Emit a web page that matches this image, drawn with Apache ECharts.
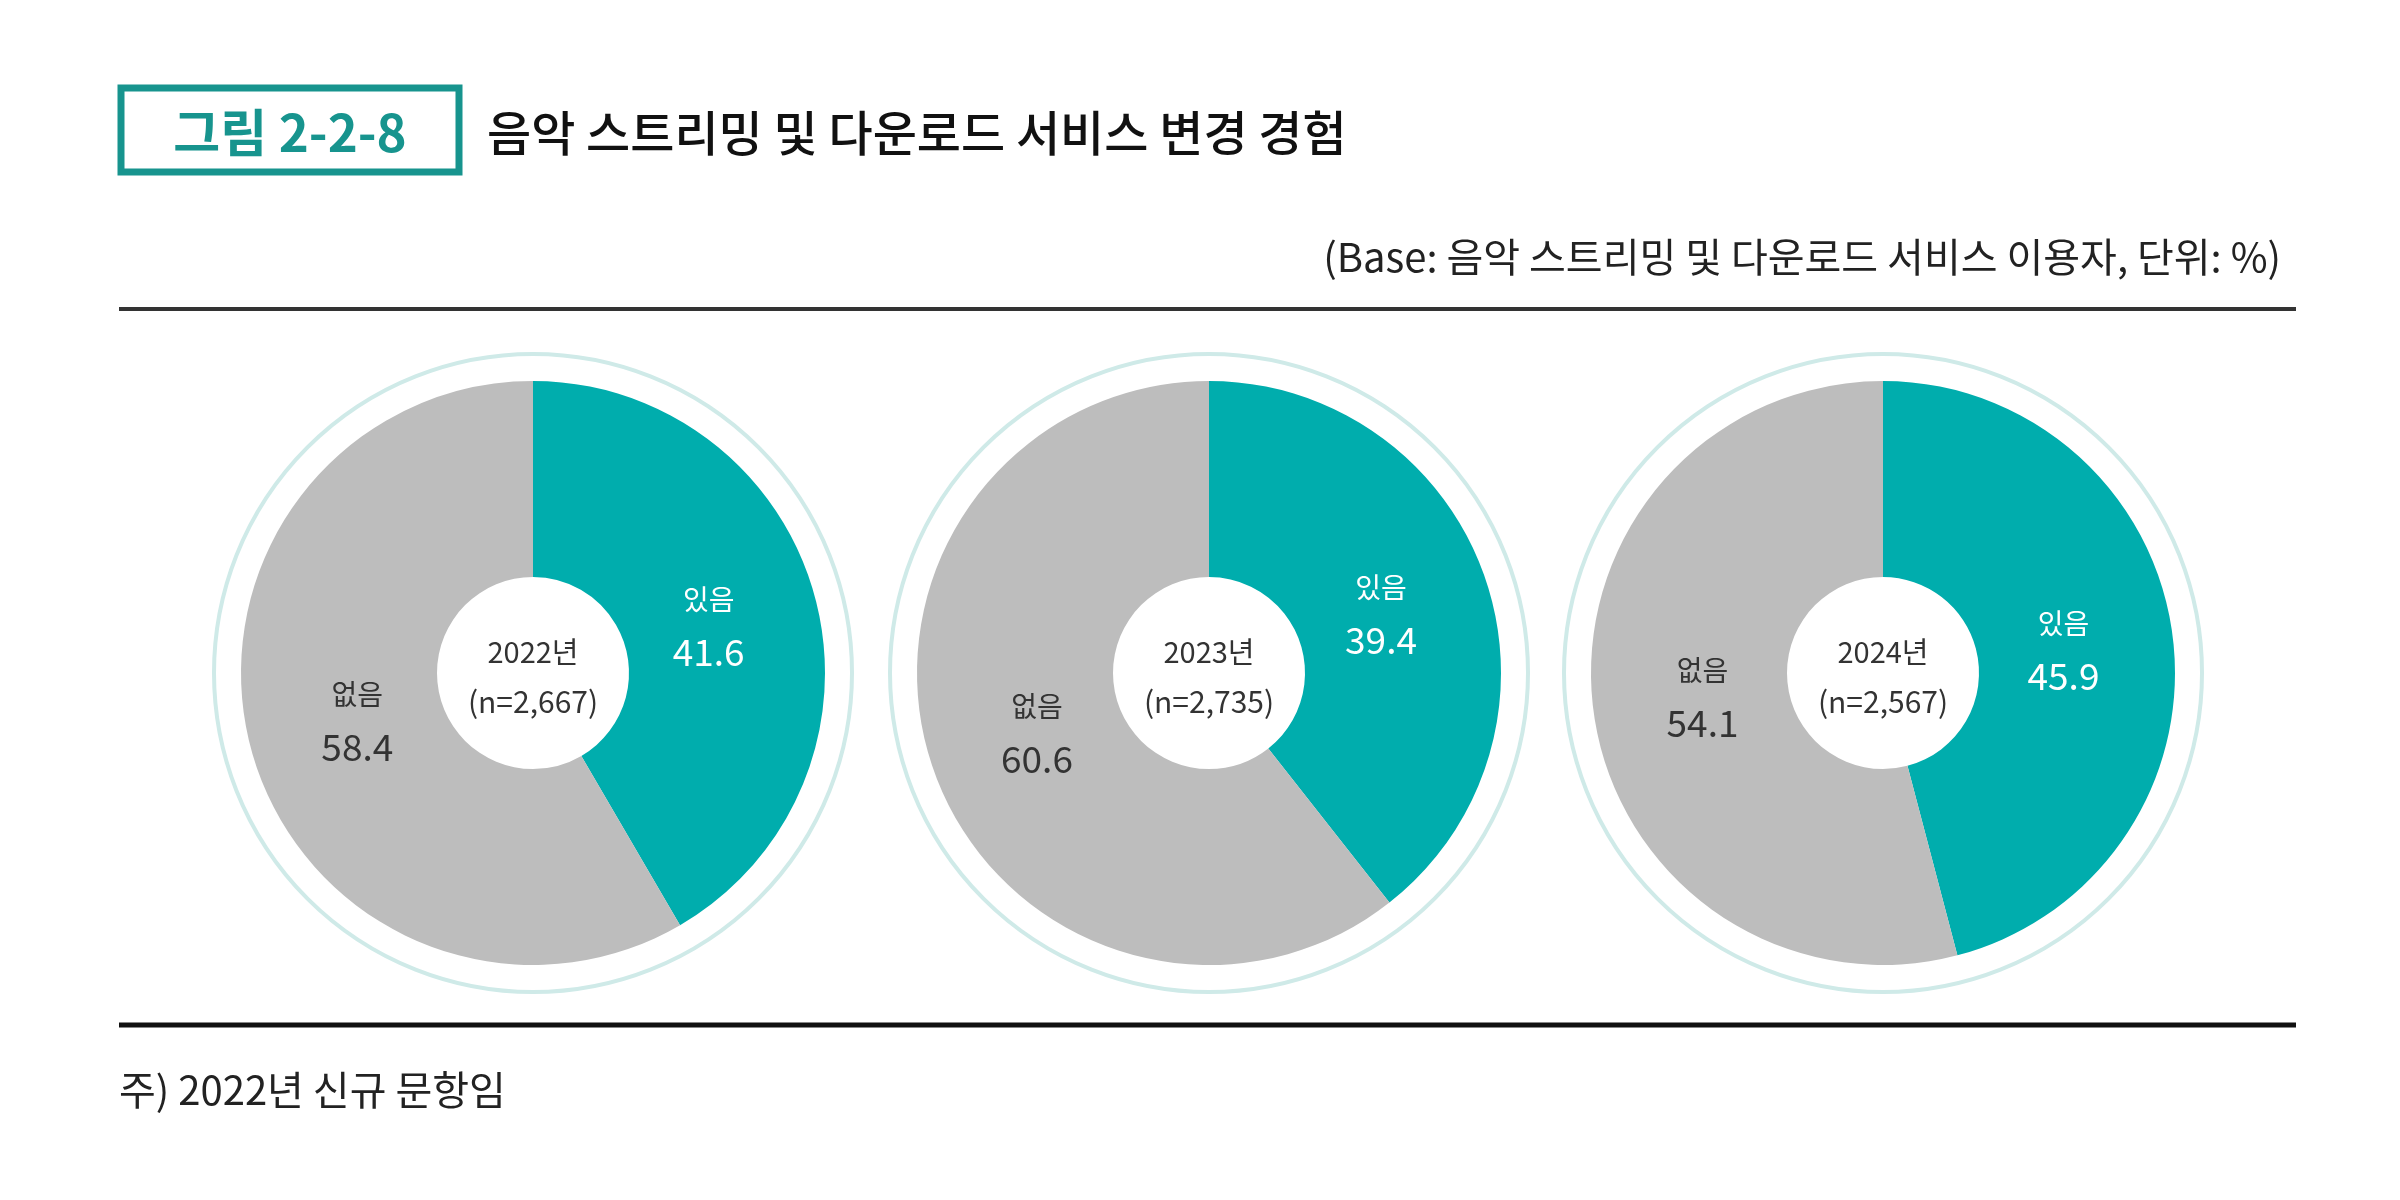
<!DOCTYPE html>
<html>
<head>
<meta charset="utf-8">
<style>
html,body{margin:0;padding:0;background:#fff;}
#chart{width:2400px;height:1200px;}
</style>
<script src="https://cdn.jsdelivr.net/npm/echarts@6/dist/echarts.min.js"></script>
</head>
<body>
<div id="chart"></div>
<script>
// ---- data ----
const categories = ['있음', '없음'];
const years = ['2022년', '2023년', '2024년'];
const sampleSizes = ['(n=2,667)', '(n=2,735)', '(n=2,567)'];
const yesValues = [41.6, 39.4, 45.9];
const noValues = [58.4, 60.6, 54.1];
const figureLabel = '그림 2-2-8';
const titleText = '음악 스트리밍 및 다운로드 서비스 변경 경험';
const baseText = '(Base: 음악 스트리밍 및 다운로드 서비스 이용자, 단위: %)';
const noteText = '주) 2022년 신규 문항임';

// ---- layout ----
const FONT = '"Noto Sans CJK KR", "Noto Sans", sans-serif';
const TEAL = '#00adad';
const GRAY = '#bdbdbd';
const centersX = [533, 1209, 1883];
const centerY = 673;
const innerR = 96, outerR = 292, ringR = 319, labelOuterR = 262;

const chart = echarts.init(document.getElementById('chart'));

function pieData(i, withLabels) {
  return [
    { name: categories[0], value: yesValues[i],
      itemStyle: { color: withLabels ? 'rgba(0,0,0,0)' : TEAL },
      label: { rich: { n: { color: '#fff' }, v: { color: '#fff' } } } },
    { name: categories[1], value: noValues[i],
      itemStyle: { color: withLabels ? 'rgba(0,0,0,0)' : GRAY },
      label: { rich: { n: { color: '#333' }, v: { color: '#333' } } } }
  ];
}

const series = [];
years.forEach((y, i) => {
  // visible donut
  series.push({
    type: 'pie',
    center: [centersX[i], centerY],
    radius: [innerR, outerR],
    startAngle: 90, clockwise: true, silent: true, animation: false,
    label: { show: false }, labelLine: { show: false },
    itemStyle: { borderWidth: 0 },
    data: pieData(i, false)
  });
  // transparent overlay carrying the inside labels
  series.push({
    type: 'pie',
    center: [centersX[i], centerY],
    radius: [innerR, labelOuterR],
    startAngle: 90, clockwise: true, silent: true, animation: false, z: 3,
    label: {
      position: 'inside',
      formatter: '{n|{b}}\n{v|{c}}',
      rich: {
        n: { fontSize: 28, fontFamily: FONT, lineHeight: 53 },
        v: { fontSize: 37, fontFamily: FONT, lineHeight: 53 }
      }
    },
    labelLine: { show: false },
    itemStyle: { borderWidth: 0 },
    data: pieData(i, true)
  });
});

const graphics = [];
years.forEach((y, i) => {
  graphics.push({
    type: 'circle', silent: true,
    shape: { cx: centersX[i], cy: centerY, r: ringR },
    style: { fill: 'none', stroke: '#cfeae8', lineWidth: 4 }
  });
  graphics.push({
    type: 'text', silent: true, z: 10,
    x: centersX[i], y: centerY - 21,
    style: { text: y, font: '29px ' + FONT, fill: '#333', align: 'center', verticalAlign: 'middle' }
  });
  graphics.push({
    type: 'text', silent: true, z: 10,
    x: centersX[i], y: centerY + 29,
    style: { text: sampleSizes[i], font: '30px ' + FONT, fill: '#333', align: 'center', verticalAlign: 'middle' }
  });
});

// title box
graphics.push({
  type: 'rect', silent: true,
  shape: { x: 121, y: 88, width: 338, height: 84 },
  style: { fill: '#fff', stroke: '#17948e', lineWidth: 7 }
});
graphics.push({
  type: 'text', silent: true,
  x: 290, y: 133,
  style: { text: figureLabel, font: 'bold 51px ' + FONT, fill: '#17948e', align: 'center', verticalAlign: 'middle' }
});
graphics.push({
  type: 'text', silent: true,
  x: 487, y: 133,
  style: { text: titleText, font: '500 48px ' + FONT, fill: '#111', align: 'left', verticalAlign: 'middle' }
});
graphics.push({
  type: 'text', silent: true,
  x: 2281, y: 257,
  style: { text: baseText, font: '40px ' + FONT, fill: '#222', align: 'right', verticalAlign: 'middle' }
});
// rules
graphics.push({
  type: 'line', silent: true,
  shape: { x1: 119, y1: 309, x2: 2296, y2: 309 },
  style: { stroke: '#333', lineWidth: 4 }
});
graphics.push({
  type: 'line', silent: true,
  shape: { x1: 119, y1: 1025, x2: 2296, y2: 1025 },
  style: { stroke: '#111', lineWidth: 5 }
});
graphics.push({
  type: 'text', silent: true,
  x: 119, y: 1090,
  style: { text: noteText, font: '40px ' + FONT, fill: '#222', align: 'left', verticalAlign: 'middle' }
});

chart.setOption({
  backgroundColor: '#ffffff',
  animation: false,
  series: series,
  graphic: graphics
});
</script>
</body>
</html>
